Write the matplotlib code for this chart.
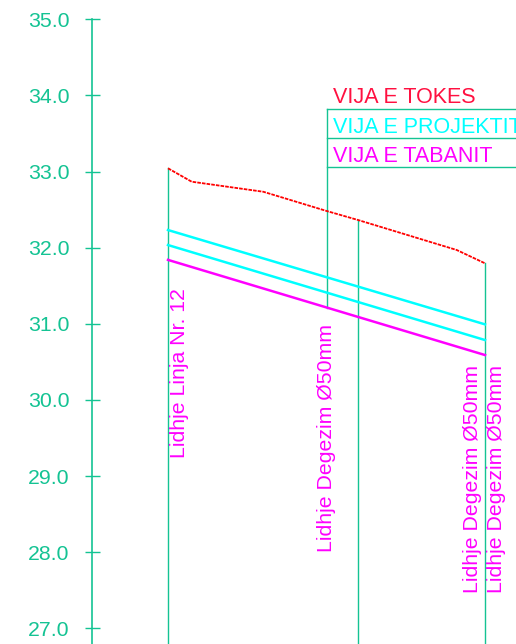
import matplotlib
matplotlib.use("Agg")
import matplotlib.pyplot as plt

plt.rcParams['font.family'] = ['Liberation Sans', 'DejaVu Sans']

GREEN = '#14C393'

# distances from the elevation axis, elevations in m
x_ground = [76, 99.7, 171.3, 234.7, 266, 364.7, 393]
y_ground = [33.043, 32.867, 32.735, 32.482, 32.364, 31.970, 31.795]

x_pipe = [76, 393]
y_proj_top = [32.232, 30.993]
y_proj_bot = [32.035, 30.787]
y_bottom = [31.840, 30.590]

# connection verticals: station, top elevation
conn_x = [76, 266, 393]
conn_top = [33.043, 32.364, 31.795]
conn_labels = ['Lidhje Linja Nr. 12', 'Lidhje Degezim Ø50mm',
               'Lidhje Degezim Ø50mm', 'Lidhje Degezim Ø50mm']
label_x = [78, 225, 371, 395]
label_y = [29.237, 28.002, 27.46, 27.46]

legend_names = ['VIJA E TOKES', 'VIJA E PROJEKTIT', 'VIJA E TABANIT']
legend_colors = ['#FF1040', '#00FFFF', '#FF00FF']
legend_rows = [33.818, 33.437, 33.056]
legend_text_y = [33.90, 33.506, 33.125]

yticks = [27.0, 28.0, 29.0, 30.0, 31.0, 32.0, 33.0, 34.0, 35.0]

fig = plt.figure(figsize=(5.16, 6.44), dpi=100)
ax = fig.add_axes([92 / 516, 0, 1 - 92 / 516, 1])
ax.set_xlim(0, 424)
ax.set_ylim(26.794, 35.254)

for s in ['top', 'right', 'bottom']:
    ax.spines[s].set_visible(False)
ax.spines['left'].set_color(GREEN)
ax.spines['left'].set_linewidth(1.2)
ax.spines['left'].set_bounds(26.794, 35.0)
ax.set_xticks([])
ax.set_yticks(yticks)
ax.set_yticklabels(['%.1f' % v for v in yticks])
ax.tick_params(axis='y', direction='inout', length=10.8, width=1.0,
               color=GREEN, labelcolor=GREEN, labelsize=15.3, pad=11)

# verticals
for xv, yt in zip(conn_x, conn_top):
    ax.plot([xv, xv], [yt, 26.0], color=GREEN, lw=1.0, clip_on=False)

# legend box
ax.plot([234.7, 234.7], [legend_rows[0], 31.203], color=GREEN, lw=1.0)
for yr in legend_rows:
    ax.plot([234.7, 430], [yr, yr], color=GREEN, lw=1.0, clip_on=False)
for name, c, yt in zip(legend_names, legend_colors, legend_text_y):
    ax.text(241, yt, name, color=c, fontsize=15.5, va='baseline', ha='left',
            clip_on=False)

ax.plot(x_pipe, y_proj_top, color='#00FFFF', lw=1.8)
ax.plot(x_pipe, y_proj_bot, color='#00FFFF', lw=1.8)
ax.plot(x_pipe, y_bottom, color='#FF00FF', lw=1.8)
ax.plot(x_ground, y_ground, color='#FF0000', lw=1.3, linestyle=(0, (2, 0.6)))

for t, xl, yl in zip(conn_labels, label_x, label_y):
    ax.text(xl, yl, t, rotation=90, color='#FF00FF', fontsize=15.3,
            ha='left', va='bottom')

fig.savefig('out.png', dpi=100)
